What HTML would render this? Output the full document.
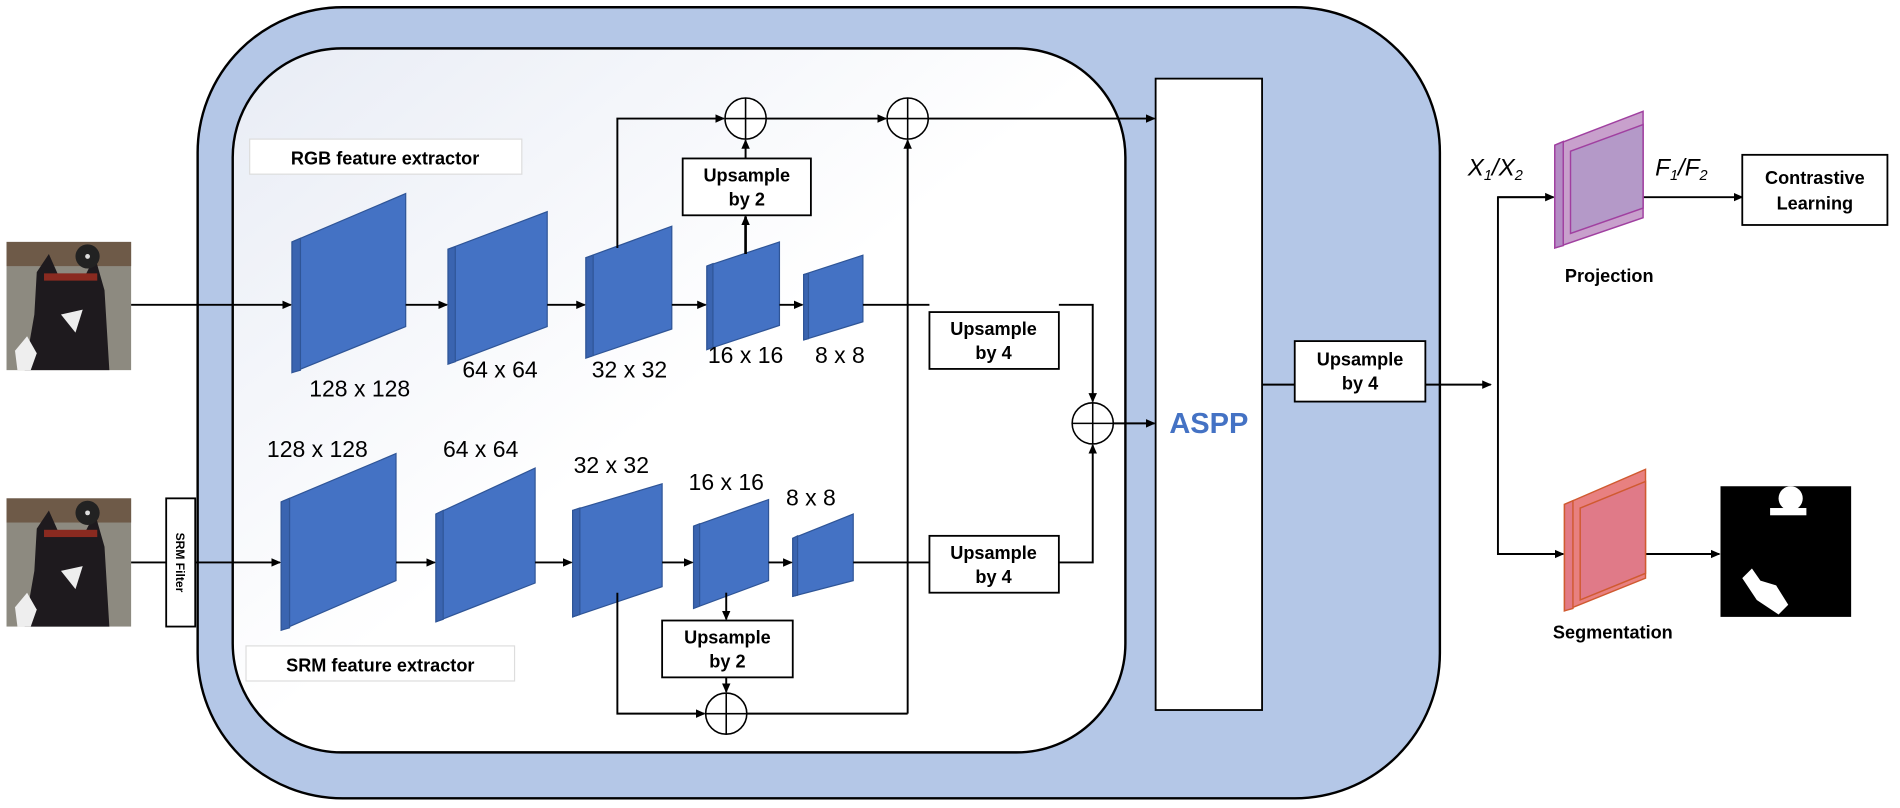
<!DOCTYPE html>
<html><head><meta charset="utf-8"><style>
html,body{margin:0;padding:0;background:#fff;width:1900px;height:808px;overflow:hidden}
svg{display:block}
text{font-family:"Liberation Sans",sans-serif}
.b{font-weight:bold;font-size:15px;fill:#000}
.d{font-size:19px;fill:#000}
</style></head><body>
<svg width="1900" height="808" viewBox="0 0 1570 668" xmlns="http://www.w3.org/2000/svg">
<defs>
<marker id="a" markerWidth="8" markerHeight="8" refX="7" refY="4" orient="auto" markerUnits="userSpaceOnUse"><path d="M0,0.5 L8,4 L0,7.5z" fill="#000"/></marker>
<linearGradient id="g" x1="0" y1="0" x2="1" y2="1"><stop offset="0" stop-color="#e8ecf5"/><stop offset="0.5" stop-color="#ffffff"/><stop offset="1" stop-color="#ffffff"/></linearGradient>
</defs>
<rect x="163" y="6" width="1027" height="654" rx="120" fill="#b4c7e7" stroke="#000" stroke-width="2"/>
<rect x="192" y="40" width="738" height="582" rx="90" fill="url(#g)" stroke="#000" stroke-width="2"/>
<rect x="955" y="65" width="88" height="522" fill="#fff" stroke="#000" stroke-width="1.5"/>
<text x="999" y="358" text-anchor="middle" font-size="24" font-weight="bold" fill="#4472c4">ASPP</text>

<!-- cats -->
<g>
<rect x="5" y="200" width="103" height="106" fill="#8d8a80"/>
<rect x="5" y="200" width="103" height="20" fill="#6e5a48"/>
<path d="M30,225 L40,210 L48,228 L70,228 L78,212 L86,240 L90,306 L20,306 L28,260z" fill="#1e1a1e"/>
<circle cx="72" cy="212" r="10" fill="#222"/><circle cx="72" cy="212" r="2" fill="#ddd"/>
<rect x="36" y="226" width="44" height="6" fill="#8a2a20"/>
<path d="M50,260 L68,256 L62,275z" fill="#eee"/>
<path d="M12,290 L22,278 L30,292 L25,306 L14,306z" fill="#eee"/>
</g>
<g>
<rect x="5" y="412" width="103" height="106" fill="#8d8a80"/>
<rect x="5" y="412" width="103" height="20" fill="#6e5a48"/>
<path d="M30,437 L40,422 L48,440 L70,440 L78,424 L86,452 L90,518 L20,518 L28,472z" fill="#1e1a1e"/>
<circle cx="72" cy="424" r="10" fill="#222"/><circle cx="72" cy="424" r="2" fill="#ddd"/>
<rect x="36" y="438" width="44" height="6" fill="#8a2a20"/>
<path d="M50,472 L68,468 L62,487z" fill="#eee"/>
<path d="M12,502 L22,490 L30,504 L25,518 L14,518z" fill="#eee"/>
</g>

<!-- SRM filter -->
<rect x="137" y="412" width="24" height="106" fill="#fff" stroke="#000" stroke-width="1.5"/>
<text transform="translate(145,465) rotate(90)" text-anchor="middle" font-size="10" font-weight="bold">SRM Filter</text>

<!-- labels -->
<rect x="206" y="115" width="225" height="29" fill="#fff" stroke="#ddd"/>
<text x="318" y="136" text-anchor="middle" class="b" font-size="17">RGB feature extractor</text>
<rect x="203" y="534" width="222" height="29" fill="#fff" stroke="#ddd"/>
<text x="314" y="555" text-anchor="middle" class="b" font-size="17">SRM feature extractor</text>

<!-- top blocks -->
<g fill="#4472c4" stroke="#2f5597" stroke-width="1">
<path d="M241,200 L335,160 L335,270 L241,308z"/><path d="M241,200 L248,197 L248,306 L241,308z" fill="#3a64b0"/>
<path d="M370,206 L452,175 L452,270 L370,301z"/><path d="M370,206 L376,204 L376,299 L370,301z" fill="#3a64b0"/>
<path d="M484,213 L555,187 L555,272 L484,296z"/><path d="M484,213 L490,211 L490,294 L484,296z" fill="#3a64b0"/>
<path d="M584,220 L644,200 L644,269 L584,289z"/><path d="M584,220 L589,218 L589,287 L584,289z" fill="#3a64b0"/>
<path d="M664,227 L713,211 L713,266 L664,281z"/><path d="M664,227 L668,226 L668,280 L664,281z" fill="#3a64b0"/>
</g>
<g class="d" text-anchor="middle">
<text x="297" y="328" class="d">128 x 128</text>
<text x="413" y="312" class="d">64 x 64</text>
<text x="520" y="312" class="d">32 x 32</text>
<text x="616" y="300" class="d">16 x 16</text>
<text x="694" y="300" class="d">8 x 8</text>
</g>
<!-- bottom blocks -->
<g fill="#4472c4" stroke="#2f5597" stroke-width="1">
<path d="M232,415 L327,375 L327,480 L232,521z"/><path d="M232,415 L239,412 L239,519 L232,521z" fill="#3a64b0"/>
<path d="M360,425 L442,387 L442,482 L360,514z"/><path d="M360,425 L366,422 L366,512 L360,514z" fill="#3a64b0"/>
<path d="M473,422 L547,400 L547,485 L473,510z"/><path d="M473,422 L479,420 L479,508 L473,510z" fill="#3a64b0"/>
<path d="M573,435 L635,413 L635,480 L573,503z"/><path d="M573,435 L578,433 L578,501 L573,503z" fill="#3a64b0"/>
<path d="M655,445 L705,425 L705,480 L655,493z"/><path d="M655,445 L659,443 L659,492 L655,493z" fill="#3a64b0"/>
</g>
<g text-anchor="middle">
<text x="262" y="378" class="d">128 x 128</text>
<text x="397" y="378" class="d">64 x 64</text>
<text x="505" y="391" class="d">32 x 32</text>
<text x="600" y="405" class="d">16 x 16</text>
<text x="670" y="418" class="d">8 x 8</text>
</g>

<!-- connectors -->
<g stroke="#000" stroke-width="1.6" fill="none">
<line x1="108" y1="252" x2="240" y2="252" marker-end="url(#a)"/>
<line x1="335" y1="252" x2="369" y2="252" marker-end="url(#a)"/>
<line x1="452" y1="252" x2="483" y2="252" marker-end="url(#a)"/>
<line x1="555" y1="252" x2="583" y2="252" marker-end="url(#a)"/>
<line x1="644" y1="252" x2="663" y2="252" marker-end="url(#a)"/>
<line x1="713" y1="252" x2="768" y2="252"/>
<line x1="108" y1="465" x2="137" y2="465"/>
<line x1="161" y1="465" x2="231" y2="465" marker-end="url(#a)"/>
<line x1="327" y1="465" x2="359" y2="465" marker-end="url(#a)"/>
<line x1="442" y1="465" x2="472" y2="465" marker-end="url(#a)"/>
<line x1="547" y1="465" x2="572" y2="465" marker-end="url(#a)"/>
<line x1="635" y1="465" x2="654" y2="465" marker-end="url(#a)"/>
<line x1="705" y1="465" x2="768" y2="465"/>
<polyline points="510,205 510,98 598,98" marker-end="url(#a)"/>
<line x1="616" y1="210" x2="616" y2="179" stroke-width="2.2" marker-end="url(#a)"/>
<line x1="616" y1="131" x2="616" y2="116" marker-end="url(#a)"/>
<line x1="633" y1="98" x2="732" y2="98" marker-end="url(#a)"/>
<line x1="767" y1="98" x2="954" y2="98" marker-end="url(#a)"/>
<polyline points="750,590 750,116" marker-end="url(#a)"/>
<line x1="600" y1="490" x2="600" y2="512" marker-end="url(#a)"/>
<line x1="600" y1="560" x2="600" y2="572" marker-end="url(#a)"/>
<polyline points="510,490 510,590 582,590" marker-end="url(#a)"/>
<line x1="617" y1="590" x2="750" y2="590"/>
<polyline points="875,252 903,252 903,332" marker-end="url(#a)"/>
<polyline points="875,465 903,465 903,368" marker-end="url(#a)"/>
<line x1="920" y1="350" x2="954" y2="350" marker-end="url(#a)"/>
<line x1="1043" y1="318" x2="1070" y2="318"/>
<line x1="1178" y1="318" x2="1232" y2="318" marker-end="url(#a)"/>
<polyline points="1283,163 1238,163 1238,458 1290,458" />
<line x1="1238" y1="163" x2="1284" y2="163" marker-end="url(#a)"/>
<line x1="1238" y1="458" x2="1292" y2="458" marker-end="url(#a)"/>
<line x1="1358" y1="163" x2="1440" y2="163" marker-end="url(#a)"/>
<line x1="1360" y1="458" x2="1421" y2="458" marker-end="url(#a)"/>
</g>
<g fill="#fff" stroke="#000" stroke-width="1.3">
<ellipse cx="616" cy="98" rx="17" ry="17"/><path d="M599,98 H633 M616,81 V115"/>
<ellipse cx="750" cy="98" rx="17" ry="17"/><path d="M733,98 H767 M750,81 V115"/>
<ellipse cx="600" cy="590" rx="17" ry="17"/><path d="M583,590 H617 M600,573 V607"/>
<ellipse cx="903" cy="350" rx="17" ry="17"/><path d="M886,350 H920 M903,333 V367"/>
</g>
<g fill="#fff" stroke="#000" stroke-width="1.5">
<rect x="564" y="131" width="106" height="47"/>
<rect x="547" y="513" width="108" height="47"/>
<rect x="768" y="258" width="107" height="47"/>
<rect x="768" y="443" width="107" height="47"/>
<rect x="1070" y="282" width="108" height="50"/>
<rect x="1440" y="128" width="120" height="58"/>
</g>
<g class="b" text-anchor="middle">
<text x="617" y="150" class="b">Upsample</text><text x="617" y="170" class="b">by 2</text>
<text x="601" y="532" class="b">Upsample</text><text x="601" y="552" class="b">by 2</text>
<text x="821" y="277" class="b">Upsample</text><text x="821" y="297" class="b">by 4</text>
<text x="821" y="462" class="b">Upsample</text><text x="821" y="482" class="b">by 4</text>
<text x="1124" y="302" class="b">Upsample</text><text x="1124" y="322" class="b">by 4</text>
<text x="1500" y="152" class="b">Contrastive</text><text x="1500" y="173" class="b">Learning</text>
<text x="1330" y="233" class="b" font-size="17">Projection</text>
<text x="1333" y="528" class="b" font-size="17">Segmentation</text>
</g>
<!-- projection block -->
<g stroke="#a040a0" stroke-width="1.2">
<path d="M1285,120 L1358,92 L1358,180 L1285,205z" fill="#c8a0cc"/>
<path d="M1285,120 L1292,117 L1292,203 L1285,205z" fill="#b48cc4"/>
<path d="M1298,125 L1358,103 L1358,172 L1298,193z" fill="#b499c8"/>
</g>
<g stroke="#d05a30" stroke-width="1.2">
<path d="M1293,417 L1360,388 L1360,478 L1293,505z" fill="#e88080"/>
<path d="M1293,417 L1300,414 L1300,503 L1293,505z" fill="#e27a85"/>
<path d="M1306,420 L1360,398 L1360,474 L1306,496z" fill="#e07a88"/>
</g>
<text x="1213" y="145" font-family="Liberation Serif,serif" font-style="italic" font-size="20">X<tspan font-size="12" dy="4">1</tspan><tspan dy="-4">/X</tspan><tspan font-size="12" dy="4">2</tspan></text>
<text x="1368" y="145" font-family="Liberation Serif,serif" font-style="italic" font-size="20">F<tspan font-size="12" dy="4">1</tspan><tspan dy="-4">/F</tspan><tspan font-size="12" dy="4">2</tspan></text>
<rect x="1422" y="402" width="108" height="108" fill="#000"/>
<circle cx="1480" cy="412" r="10" fill="#fff"/>
<rect x="1463" y="420" width="30" height="6" fill="#fff"/>
<path d="M1440,478 L1448,470 L1455,480 L1468,484 L1478,500 L1470,508 L1452,496z" fill="#fff"/>
</svg>
</body></html>
